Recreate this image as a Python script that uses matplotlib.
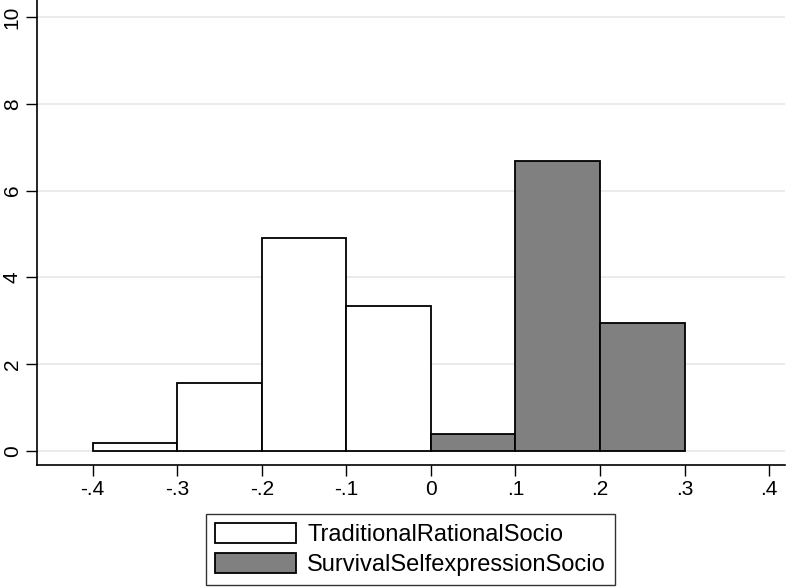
import matplotlib.pyplot as plt
from matplotlib.patches import Patch

plt.rcParams['font.family'] = ['Liberation Sans', 'DejaVu Sans']

# bin edges and densities
trad_edges = [-0.4, -0.3, -0.2, -0.1, 0.0]
trad_density = [0.19, 1.56, 4.90, 3.34]
surv_edges = [0.0, 0.1, 0.2, 0.3]
surv_density = [0.39, 6.67, 2.94]

x_ticks = [-0.4, -0.3, -0.2, -0.1, 0.0, 0.1, 0.2, 0.3, 0.4]
x_labels = ['-.4', '-.3', '-.2', '-.1', '0', '.1', '.2', '.3', '.4']
y_ticks = [0, 2, 4, 6, 8, 10]
legend_labels = ['TraditionalRationalSocio', 'SurvivalSelfexpressionSocio']

fig = plt.figure(figsize=(7.86, 5.87), dpi=100)
ax = fig.add_axes([0.047, 0.208, 0.952, 0.792])

# histograms as bars
ax.bar(trad_edges[:-1], trad_density, width=0.1, align='edge',
       color='white', edgecolor='black', linewidth=1.3, zorder=3)
ax.bar(surv_edges[:-1], surv_density, width=0.1, align='edge',
       color='#808080', edgecolor='black', linewidth=1.3, zorder=3)

ax.set_xlim(-0.466, 0.419)
ax.set_ylim(-0.32, 10.39)
ax.set_xticks(x_ticks)
ax.set_xticklabels(x_labels, fontsize=15)
ax.set_yticks(y_ticks)
ax.set_yticklabels([str(v) for v in y_ticks], fontsize=15, rotation=90, va='center')
ax.tick_params(length=8, width=1, color='black', pad=3)
ax.grid(axis='y', color='#e8e8e8', linewidth=1.2, zorder=0)

ax.spines['top'].set_visible(False)
ax.spines['right'].set_visible(False)
ax.spines['left'].set_linewidth(1.2)
ax.spines['bottom'].set_linewidth(1.2)

handles = [Patch(facecolor='white', edgecolor='black', linewidth=1.3),
           Patch(facecolor='#808080', edgecolor='black', linewidth=1.3)]
leg = fig.legend(handles, legend_labels, loc='center', bbox_to_anchor=(0.522, 0.064),
                 fontsize=17, frameon=True, fancybox=False, edgecolor='black',
                 handlelength=3.43, handleheight=0.93, handletextpad=0.5,
                 labelspacing=0.3, borderpad=0.38, borderaxespad=0)
leg.get_frame().set_linewidth(1.0)

fig.savefig('out.png', dpi=100)
